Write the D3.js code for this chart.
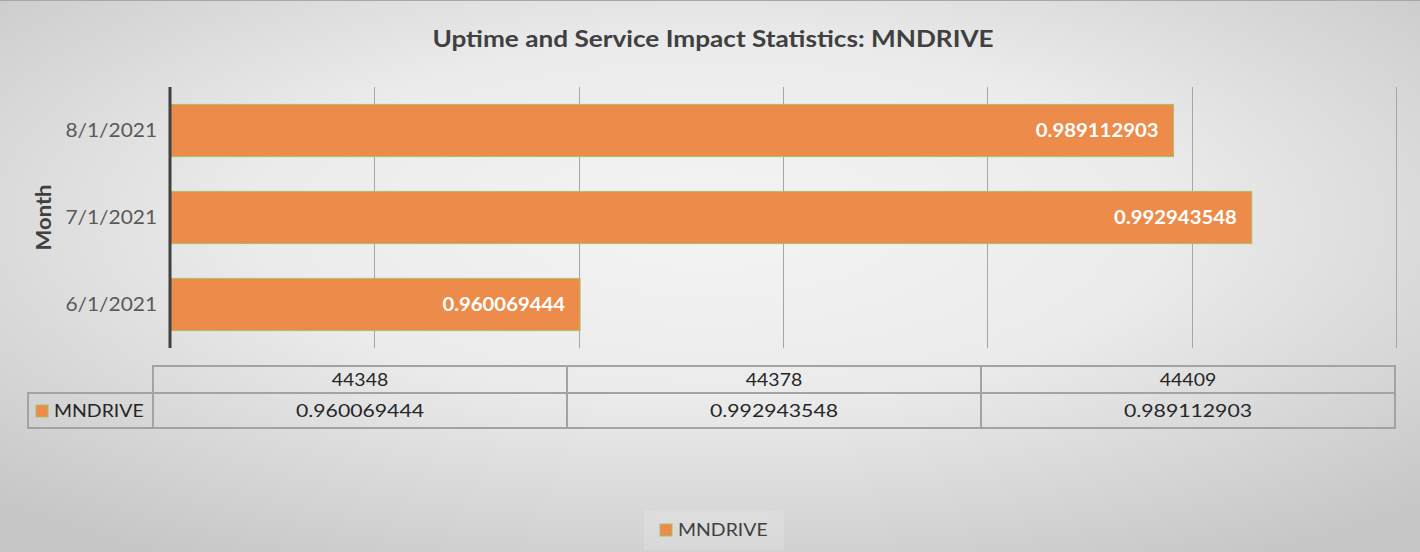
<!DOCTYPE html>
<html>
<head>
<meta charset="utf-8">
<script src="https://cdn.jsdelivr.net/npm/d3@7"></script>
<style>
	html, body { margin: 0; padding: 0; background: #e4e4e4; }
	svg { display: block; font-family: Lato, "Noto Sans", sans-serif; }
</style>
</head>
<body>
<svg id="chart"></svg>
<script>
var months      = [ "6/1/2021", "7/1/2021", "8/1/2021" ];
var serials     = [ 44348, 44378, 44409 ];
var uptime      = [ 0.960069444, 0.992943548, 0.989112903 ];
var x_ticks     = [ 0.94, 0.95, 0.96, 0.97, 0.98, 0.99, 1.00 ];
var series_name = "MNDRIVE";
var title_text  = "Uptime and Service Impact Statistics: MNDRIVE";
var axis_title  = "Month";

var W = 1420, H = 552;
var plot = { left : 170, right : 1396, top : 87, bottom : 348 };
var table = { left : 28, key_right : 153, right : 1395, top : 366, mid : 393, bottom : 428 };
var bar_color = "#ed8b4a";

// the source picture is a little wider than tall, so text gets stretched sideways
function stretched( sel, x, y, sx ){
	return sel.attr( "transform", "translate(" + x + "," + y + ") scale(" + sx + ",1)" );
}

var svg = d3.select( "#chart" )
	.attr( "width", W )
	.attr( "height", H );

// Background gradient
var defs = svg.append( "defs" );
var grad = defs.append( "radialGradient" )
	.attr( "id", "bg" )
	.attr( "cx", "50%" ).attr( "cy", "40%" ).attr( "r", "72%" );
grad.append( "stop" ).attr( "offset", "0%" ).attr( "stop-color", "#f4f4f4" );
grad.append( "stop" ).attr( "offset", "45%" ).attr( "stop-color", "#ebebeb" );
grad.append( "stop" ).attr( "offset", "100%" ).attr( "stop-color", "#c6c6c6" );

svg.append( "rect" )
	.attr( "width", W ).attr( "height", H )
	.attr( "fill", "url(#bg)" );

svg.append( "line" )
	.attr( "x1", 0 ).attr( "x2", W )
	.attr( "y1", 0.5 ).attr( "y2", 0.5 )
	.attr( "stroke", "#a8a8a8" );

// Title
stretched( svg.append( "text" ), 713, 47, 1.19 )
	.attr( "text-anchor", "middle" )
	.attr( "font-size", 22 )
	.attr( "font-weight", "bold" )
	.attr( "fill", "#404040" )
	.text( title_text );

// Scales
var x = d3.scaleLinear()
	.domain([ x_ticks[0], x_ticks[ x_ticks.length - 1 ] ])
	.range([ plot.left, plot.right ]);

var y = d3.scaleBand()
	.domain( months.slice().reverse() )
	.range([ plot.top, plot.bottom ])
	.paddingInner( 0.4 )
	.paddingOuter( 0.2 );

// Gridlines
svg.append( "g" )
	.selectAll( "line" )
	.data( x_ticks.slice( 1 ) )
	.enter()
	.append( "line" )
		.attr( "x1", function(d){ return Math.round( x( d ) ) + 0.5; } )
		.attr( "x2", function(d){ return Math.round( x( d ) ) + 0.5; } )
		.attr( "y1", plot.top )
		.attr( "y2", plot.bottom )
		.attr( "stroke", "#a6a6a6" )
		.attr( "stroke-width", 1 );

// Bars
var data = months.map( function(m, i){ return { month : m, val : uptime[i] }; } );

svg.append( "g" )
	.selectAll( "rect" )
	.data( data )
	.enter()
	.append( "rect" )
		.attr( "x", x( x_ticks[0] ) )
		.attr( "y", function(d){ return y( d.month ); } )
		.attr( "width", function(d){ return x( d.val ) - x( x_ticks[0] ); } )
		.attr( "height", y.bandwidth() )
		.attr( "fill", bar_color )
		.attr( "stroke", "#a9c06a" )
		.attr( "stroke-width", 1 );

// Bar labels
svg.append( "g" )
	.selectAll( "text" )
	.data( data )
	.enter()
	.append( "text" )
		.attr( "transform", function(d){
			return "translate(" + ( x( d.val ) - 15 ) + "," + ( y( d.month ) + y.bandwidth() / 2 ) + ") scale(1.13,1)";
		})
		.attr( "dy", "0.36em" )
		.attr( "text-anchor", "end" )
		.attr( "font-size", 18 )
		.attr( "font-weight", "bold" )
		.attr( "fill", "#ffffff" )
		.text( function(d){ return d.val; } );

// Y axis
var y_axis = d3.axisLeft( y ).tickSize( 0 ).tickPadding( 13 );
var gy = svg.append( "g" )
	.attr( "transform", "translate(" + plot.left + ",0)" )
	.call( y_axis );
gy.select( ".domain" ).remove();
gy.selectAll( "text" )
	.attr( "font-family", "Lato, sans-serif" )
	.attr( "font-size", 19 )
	.attr( "fill", "#595959" )
	.attr( "transform", "translate(-13,0) scale(1.1,1) translate(13,0)" );

svg.append( "line" )
	.attr( "x1", plot.left ).attr( "x2", plot.left )
	.attr( "y1", plot.top ).attr( "y2", plot.bottom )
	.attr( "stroke", "#404040" )
	.attr( "stroke-width", 3 );

svg.append( "text" )
	.attr( "transform", "translate(51," + ( ( plot.top + plot.bottom ) / 2 ) + ") rotate(-90) scale(1.1,1)" )
	.attr( "text-anchor", "middle" )
	.attr( "font-size", 20 )
	.attr( "font-weight", "bold" )
	.attr( "fill", "#404040" )
	.text( axis_title );

// Data table
var col = d3.scaleBand()
	.domain( serials )
	.range([ table.key_right, table.right ]);

var tg = svg.append( "g" )
	.attr( "fill", "none" )
	.attr( "stroke", "#a3a3a3" )
	.attr( "stroke-width", 2 );

tg.append( "rect" )
	.attr( "x", table.key_right ).attr( "y", table.top )
	.attr( "width", table.right - table.key_right )
	.attr( "height", table.bottom - table.top );
tg.append( "rect" )
	.attr( "x", table.left ).attr( "y", table.mid )
	.attr( "width", table.right - table.left )
	.attr( "height", table.bottom - table.mid );
tg.selectAll( "line" )
	.data( serials.slice( 1 ) )
	.enter()
	.append( "line" )
		.attr( "x1", function(d){ return col( d ); } )
		.attr( "x2", function(d){ return col( d ); } )
		.attr( "y1", table.top )
		.attr( "y2", table.bottom );

svg.append( "g" )
	.selectAll( "text" )
	.data( serials )
	.enter()
	.append( "text" )
		.attr( "transform", function(d){
			return "translate(" + ( col( d ) + col.bandwidth() / 2 ) + "," + ( ( table.top + table.mid ) / 2 ) + ") scale(1.08,1)";
		})
		.attr( "dy", "0.36em" )
		.attr( "text-anchor", "middle" )
		.attr( "font-size", 18 )
		.attr( "fill", "#262626" )
		.text( function(d){ return d; } );

svg.append( "g" )
	.selectAll( "text" )
	.data( data )
	.enter()
	.append( "text" )
		.attr( "transform", function(d, i){
			return "translate(" + ( col( serials[i] ) + col.bandwidth() / 2 ) + "," + ( ( table.mid + table.bottom ) / 2 ) + ") scale(1.18,1)";
		})
		.attr( "dy", "0.36em" )
		.attr( "text-anchor", "middle" )
		.attr( "font-size", 18 )
		.attr( "fill", "#262626" )
		.text( function(d){ return d.val; } );

svg.append( "rect" )
	.attr( "x", 36 ).attr( "y", 405 )
	.attr( "width", 12 ).attr( "height", 12 )
	.attr( "fill", bar_color )
	.attr( "stroke", "#a9c06a" );
stretched( svg.append( "text" ), 54, ( table.mid + table.bottom ) / 2, 1.08 )
	.attr( "dy", "0.36em" )
	.attr( "font-size", 18 )
	.attr( "fill", "#262626" )
	.text( series_name );

// Legend
var lg = svg.append( "g" ).attr( "transform", "translate(660,530)" );
lg.append( "rect" )
	.attr( "x", -16 ).attr( "y", -20 )
	.attr( "width", 140 ).attr( "height", 40 )
	.attr( "fill", "#ffffff" )
	.attr( "opacity", 0.15 );
lg.append( "rect" )
	.attr( "x", 0 ).attr( "y", -6 )
	.attr( "width", 12 ).attr( "height", 12 )
	.attr( "fill", bar_color )
	.attr( "stroke", "#a9c06a" );
stretched( lg.append( "text" ), 18, 0, 1.08 )
	.attr( "dy", "0.36em" )
	.attr( "font-size", 18 )
	.attr( "fill", "#404040" )
	.text( series_name );
</script>
</body>
</html>
